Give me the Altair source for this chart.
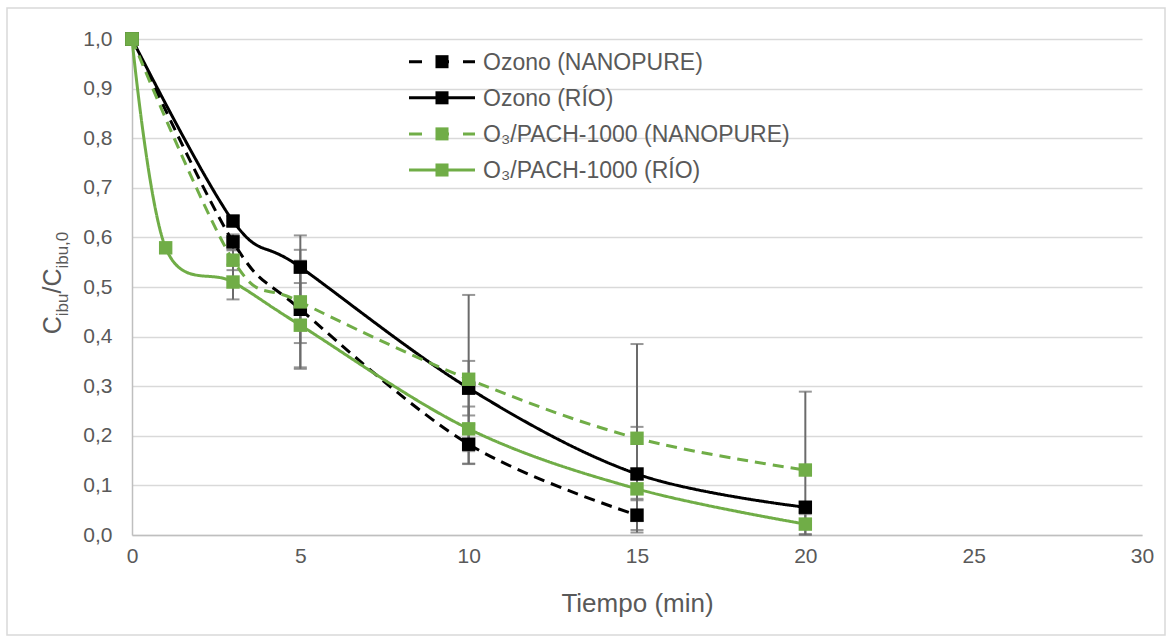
import altair as alt
import pandas as pd

# ---------------- data ----------------
names = ["Ozono (NANOPURE)", "Ozono (RÍO)", "O₃/PACH-1000 (NANOPURE)", "O₃/PACH-1000 (RÍO)"]
colors = ["#000000", "#000000", "#70AD47", "#70AD47"]
dashes = [[11, 7], [1, 0], [11, 7], [1, 0]]

t_oz_nano = [0, 3, 5, 10, 15]
y_oz_nano = [1.0, 0.591, 0.455, 0.183, 0.040]
e_oz_nano = [0, 0.015, 0.12, 0.04, 0.03]

t_oz_rio = [0, 3, 5, 10, 15, 20]
y_oz_rio = [1.0, 0.633, 0.540, 0.296, 0.123, 0.056]
e_oz_rio = [0, 0.01, 0.064, 0.055, 0.095, 0.01]

t_pach_nano = [0, 3, 5, 10, 15, 20]
y_pach_nano = [1.0, 0.554, 0.470, 0.314, 0.195, 0.131]
e_pach_nano = [0, 0.02, 0.083, 0.17, 0.19, 0.158]

t_pach_rio = [0, 1, 3, 5, 10, 15, 20]
y_pach_rio = [1.0, 0.579, 0.510, 0.423, 0.214, 0.093, 0.022]
e_pach_rio = [0, 0, 0.035, 0.085, 0.045, 0.02, 0.02]

x_ticks = [0, 5, 10, 15, 20, 25, 30]
y_ticks = [0.0, 0.1, 0.2, 0.3, 0.4, 0.5, 0.6, 0.7, 0.8, 0.9, 1.0]

series_t = [t_oz_nano, t_oz_rio, t_pach_nano, t_pach_rio]
series_y = [y_oz_nano, y_oz_rio, y_pach_nano, y_pach_rio]
series_e = [e_oz_nano, e_oz_rio, e_pach_nano, e_pach_rio]

# ---------------- layout ----------------
W, H = 1010, 496
FONT = "Liberation Sans"
GREY_TXT = "#595959"

xs = alt.Scale(domain=[0, 30], nice=False, zero=False)
ys = alt.Scale(domain=[0, 1], nice=False)

frames = []
for name, t, y, e in zip(names, series_t, series_y, series_e):
    frames.append(pd.DataFrame({"serie": name, "t": t, "y": y, "e": e}))
df = pd.concat(frames, ignore_index=True)
df["lo"] = (df["y"] - df["e"]).clip(lower=0)
df["hi"] = (df["y"] + df["e"]).clip(upper=1)
err_df = df[df["e"] > 0]

# base with axes + grid
base = alt.Chart(df).mark_point(opacity=0).encode(
    x=alt.X("t:Q", scale=xs, title="Tiempo (min)",
            axis=alt.Axis(values=x_ticks, grid=False, ticks=False, domainColor="#bfbfbf",
                          domainWidth=1.5, labelFontSize=21, labelColor=GREY_TXT, labelFont=FONT,
                          labelPadding=10, labelFlush=False, titleFont=FONT, titleFontSize=26,
                          titleColor=GREY_TXT, titleFontWeight="normal", titlePadding=24)),
    y=alt.Y("y:Q", scale=ys, title=None,
            axis=alt.Axis(values=y_ticks, grid=True, gridColor="#d9d9d9", gridWidth=1.5,
                          ticks=False, domainColor="#bfbfbf", domainWidth=1.5,
                          labelFontSize=21, labelColor=GREY_TXT, labelFont=FONT, labelPadding=20,
                          labelFlush=False,
                          labelExpr="replace(format(datum.value, '.1f'), '.', ',')")),
)

err_rule = alt.Chart(err_df).mark_rule(color="#6b6b6b", strokeWidth=2).encode(
    x=alt.X("t:Q", scale=xs), y=alt.Y("lo:Q", scale=ys), y2="hi:Q")
err_cap_lo = alt.Chart(err_df).mark_tick(color="#6b6b6b", thickness=2, size=13, orient="horizontal").encode(
    x=alt.X("t:Q", scale=xs), y=alt.Y("lo:Q", scale=ys))
err_cap_hi = alt.Chart(err_df).mark_tick(color="#6b6b6b", thickness=2, size=13, orient="horizontal").encode(
    x=alt.X("t:Q", scale=xs), y=alt.Y("hi:Q", scale=ys))

layers = [base, err_rule, err_cap_lo, err_cap_hi]
for name, col, dash in zip(names, colors, dashes):
    sub = df[df["serie"] == name]
    line = alt.Chart(sub).mark_line(color=col, strokeWidth=3, strokeDash=dash,
                                    interpolate="cardinal").encode(
        x=alt.X("t:Q", scale=xs), y=alt.Y("y:Q", scale=ys), order="t:Q")
    pts = alt.Chart(sub).mark_point(shape="square", filled=True, color=col, size=180, opacity=1).encode(
        x=alt.X("t:Q", scale=xs), y=alt.Y("y:Q", scale=ys))
    layers += [line, pts]

# manual legend
one = pd.DataFrame({"k": [0]})
leg_y0, leg_dy = 22.7, 36.1
for i, (name, col, dash) in enumerate(zip(names, colors, dashes)):
    yy = leg_y0 + i * leg_dy
    ld = [13, 14] if dash[1] > 0 else [1, 0]
    layers.append(alt.Chart(one).mark_rule(color=col, strokeWidth=3, strokeDash=ld).encode(
        x=alt.value(277), x2=alt.value(343), y=alt.value(yy)))
    layers.append(alt.Chart(one).mark_point(shape="square", filled=True, color=col, size=170, opacity=1).encode(
        x=alt.value(310), y=alt.value(yy)))
    layers.append(alt.Chart(one).mark_text(align="left", baseline="middle", font=FONT, fontSize=23,
                                           color=GREY_TXT).encode(
        x=alt.value(351), y=alt.value(yy + 1), text=alt.value(name)))

# y-axis title with subscripts: C_ibu / C_ibu,0
pieces = [("C", 25, 0), ("ibu", 17, 7), ("/C", 25, 0), ("ibu,0", 17, 7)]
widths = {"C": 0.722, "i": 0.222, "b": 0.556, "u": 0.556, "/": 0.278, ",": 0.278, "0": 0.556}
total = sum(sum(widths[c] for c in txt) * fs for txt, fs, _ in pieces)
ystart = 244 + total / 2
base_x = -71
for txt, fs, sh in pieces:
    layers.append(alt.Chart(one).mark_text(align="left", baseline="alphabetic", angle=270,
                                           font=FONT, fontSize=fs, color=GREY_TXT).encode(
        x=alt.value(base_x + sh), y=alt.value(ystart), text=alt.value(txt)))
    ystart -= sum(widths[c] for c in txt) * fs

# outer chart border
layers.append(alt.Chart(one).mark_rect(fill=None, stroke="#d9d9d9", strokeWidth=1.5).encode(
    x=alt.value(-125), x2=alt.value(1033), y=alt.value(-31), y2=alt.value(596)))

chart = alt.layer(*layers).properties(
    width=W, height=H,
    padding={"left": 132, "top": 39, "right": 30, "bottom": 106},
    autosize=alt.AutoSizeParams(type="none"),
    background="white",
).configure_view(stroke=None)

chart.save("out.html", embed_options={"renderer": "svg", "actions": False})
